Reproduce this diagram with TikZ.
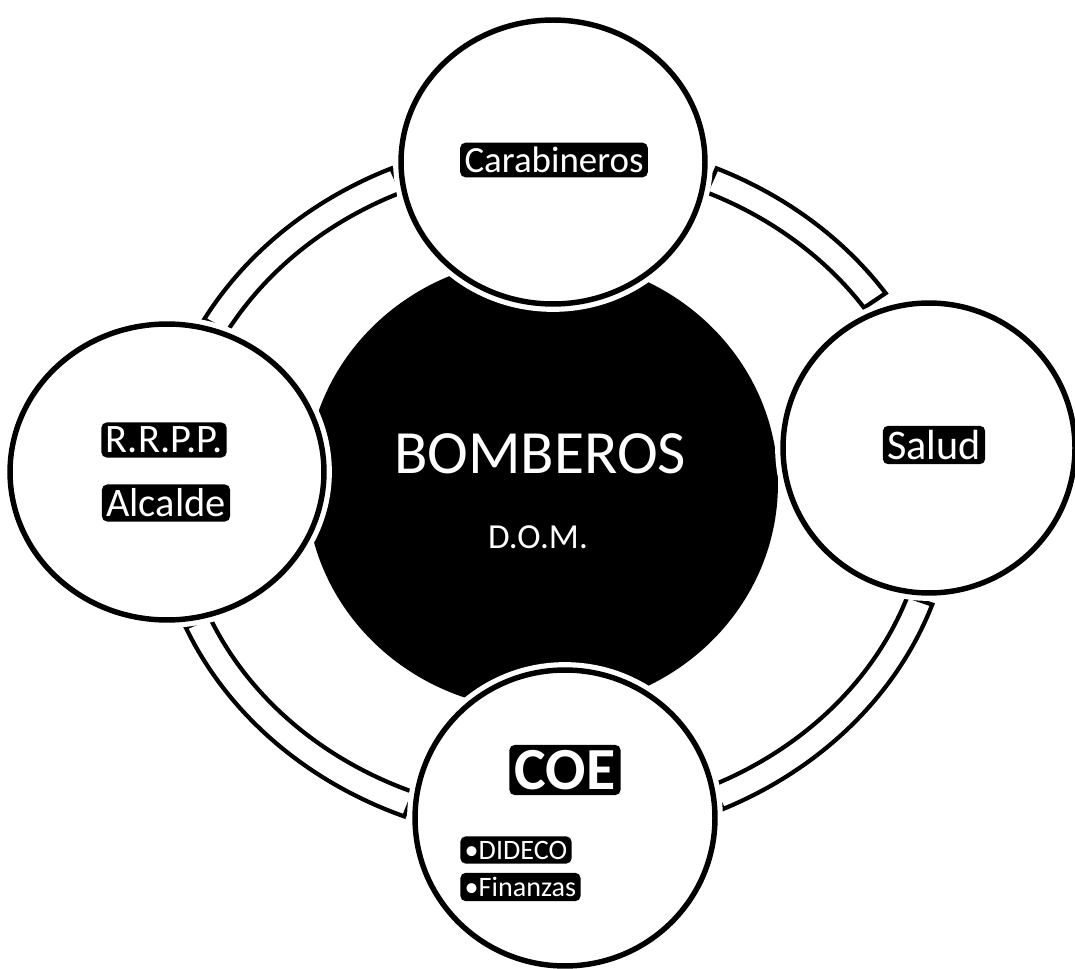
\documentclass[tikz,border=0pt]{standalone}
\usepackage{fontspec}
\setmainfont{Carlito}
\usepackage{tikz}
\usetikzlibrary{shapes.geometric, calc, positioning}
\tikzset{
    member/.style={
        ellipse,
        draw=black,
        line width=3.1pt,
        fill=white,
        inner sep=0pt,
        preaction={draw=white, line width=9pt}
    },
    core/.style={
        ellipse,
        fill=black,
        inner sep=0pt
    },
    ringarc/.style={
        draw=black,
        line width=2.4pt,
        fill=white,
        line join=miter
    },
    tag/.style={
        fill=black,
        text=white,
        rounded corners=3pt,
        inner sep=2.5pt,
        font=\fontsize{21}{25}\selectfont
    },
    coretext/.style={
        text=white,
        inner sep=0pt
    }
}
\begin{document}
\begin{tikzpicture}[x=0.02cm, y=0.02cm]

\path[use as bounding box, fill=white] (0,0) rectangle (1075,968);

% Ring segments
\coordinate (ringc) at (554,478);
\draw[ringarc] ([shift={(114:400 and 352)}]ringc) arc[start angle=114, end angle=151, x radius=400, y radius=352]
    -- ([shift={(151:374 and 326)}]ringc) arc[start angle=151, end angle=114, x radius=374, y radius=326] -- cycle;
\draw[ringarc] ([shift={(34:400 and 352)}]ringc) arc[start angle=34, end angle=66, x radius=400, y radius=352]
    -- ([shift={(66:374 and 326)}]ringc) arc[start angle=66, end angle=34, x radius=374, y radius=326] -- cycle;
\draw[ringarc] ([shift={(203:400 and 352)}]ringc) arc[start angle=203, end angle=248, x radius=400, y radius=352]
    -- ([shift={(248:374 and 326)}]ringc) arc[start angle=248, end angle=203, x radius=374, y radius=326] -- cycle;
\draw[ringarc] ([shift={(295:400 and 352)}]ringc) arc[start angle=295, end angle=341, x radius=400, y radius=352]
    -- ([shift={(341:374 and 326)}]ringc) arc[start angle=341, end angle=295, x radius=374, y radius=326] -- cycle;

% Central circle
\node[core, minimum width=9.44cm, minimum height=9.04cm] (bomberos) at (542,484) {};
\node[coretext, font=\fontsize{35}{42}\selectfont] (tbomberos) at (540,514) {BOMBEROS};
\node[coretext, font=\fontsize{20}{24}\selectfont] (tdom) at (538,431) {D.O.M.};

% Outer circles
\node[member, minimum width=6.08cm, minimum height=5.68cm] (carab) at (553,806) {};
\node[member, minimum width=6.28cm, minimum height=5.92cm] (rrpp) at (167,496) {};
\node[member, minimum width=5.84cm, minimum height=5.8cm] (salud) at (929,520) {};
\node[member, minimum width=6.0cm, minimum height=5.92cm] (coe) at (565,150) {};

% Labels
\node[tag] (tcarab) at (554,808) {Carabineros};
\node[tag, font=\fontsize{24}{28}\selectfont] (tsalud) at (934,523) {Salud};
\node[tag, font=\fontsize{23}{27}\selectfont] (trrpp) at (164,528) {R.R.P.P.};
\node[tag, font=\fontsize{23}{27}\selectfont] (talcalde) at (166,465) {Alcalde};
\node[tag, inner sep=3pt, font=\fontsize{34}{40}\selectfont\bfseries] (tcoe) at (565,198) {COE};
\node[tag, anchor=west, font=\fontsize{16}{19}\selectfont] (tdideco) at (460,118) {\textbullet DIDECO};
\node[tag, anchor=west, font=\fontsize{16}{19}\selectfont] (tfinanzas) at (460,81) {\textbullet Finanzas};

\end{tikzpicture}
\end{document}
